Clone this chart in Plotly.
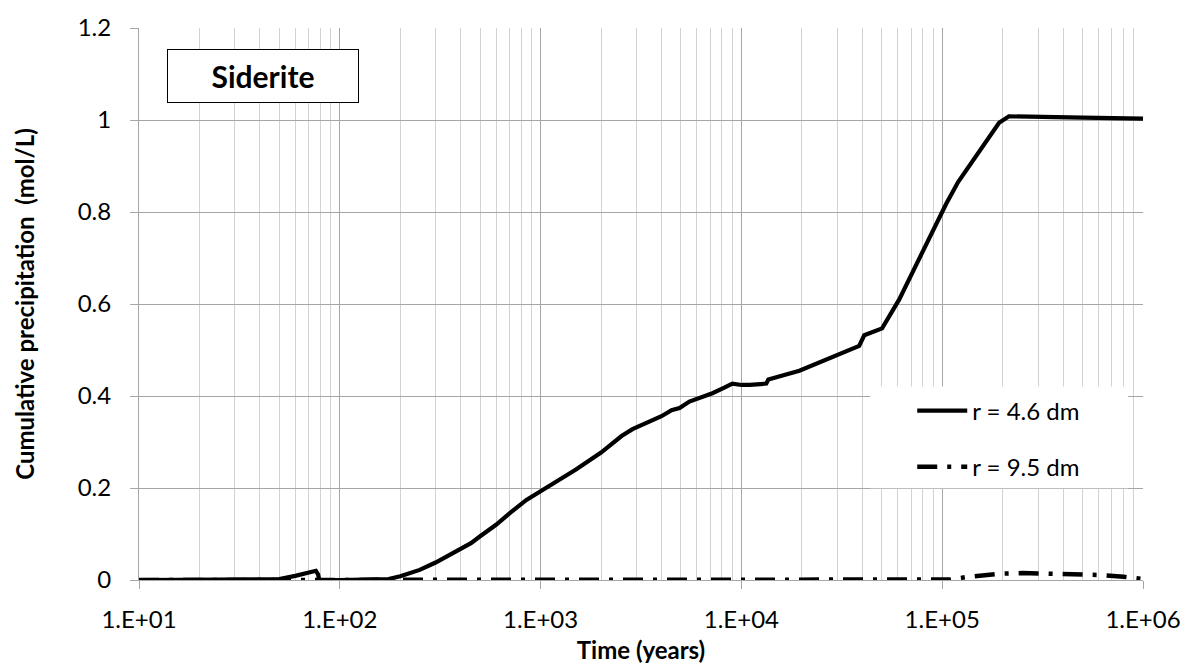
import plotly.graph_objects as go

# ---------------- data ----------------
time_solid = [10, 40, 50, 60, 73, 76, 78, 79, 100, 150, 175, 200, 250, 300, 400, 450, 500, 600,
              700, 850, 1000, 1500, 2000, 2530, 2870, 3500, 4000, 4490, 4920, 5510, 7170,
              8220, 9020, 10000, 11000, 13300, 13620, 19440, 29700, 38600, 40900, 50200,
              61100, 80000, 104700, 120000, 150000, 192000, 215000, 300000, 500000, 1000000]
r46 = [0, 0, 0.002, 0.009, 0.019, 0.02, 0.012, 0, 0, 0, 0.002, 0.008, 0.022, 0.038, 0.068,
       0.08, 0.095, 0.12, 0.145, 0.174, 0.193, 0.24, 0.277, 0.313, 0.328, 0.345, 0.356,
       0.369, 0.374, 0.388, 0.406, 0.418, 0.427, 0.424, 0.424, 0.427, 0.436, 0.455, 0.489,
       0.509, 0.532, 0.547, 0.61, 0.715, 0.818, 0.865, 0.927, 0.994, 1.008, 1.006, 1.005, 1.003]

time_dash = [10, 100, 1000, 10000, 100000, 110000, 130000, 160000, 200000, 250000,
             400000, 600000, 800000, 1000000]
r95 = [0, 0, 0, 0, 0, 0.001, 0.006, 0.011, 0.014, 0.015, 0.013, 0.011, 0.007, 0.002]

x_tickvals = [10, 100, 1000, 10000, 100000, 1000000]
x_ticktext = ["1.E+01", "1.E+02", "1.E+03", "1.E+04", "1.E+05", "1.E+06"]
y_tickvals = [0, 0.2, 0.4, 0.6, 0.8, 1.0, 1.2]
y_ticktext = ["0", "0.2", "0.4", "0.6", "0.8", "1", "1.2"]

FONT = "Lato"
minor_vals = [m * 10 ** d for d in range(1, 6) for m in range(2, 10)]

fig = go.Figure()
fig.add_trace(go.Scatter(x=time_dash, y=r95, mode="lines", name="r = 9.5 dm",
                         line=dict(color="black", width=4.5, dash="20px,10px,4px,10px"),
                         legendgroup="b", legendrank=2))
fig.add_trace(go.Scatter(x=time_solid, y=r46, mode="lines", name="r = 4.6 dm",
                         line=dict(color="black", width=4.2),
                         legendgroup="a", legendrank=1))

fig.update_layout(
    width=1193, height=672,
    margin=dict(l=139, r=49, t=22, b=91),
    paper_bgcolor="white", plot_bgcolor="white",
    font=dict(family=FONT, color="black", size=24),
    showlegend=True,
    legend=dict(x=(913 - 139) / 1005, y=(581 - 387) / 559, xanchor="left", yanchor="top",
                bgcolor="rgba(0,0,0,0)", borderwidth=0, font=dict(size=24, family=FONT),
                tracegroupgap=22, itemwidth=50),
    xaxis=dict(type="log", range=[1, 6], tickmode="array", tickvals=x_tickvals,
               ticktext=x_ticktext, showgrid=True, gridcolor="#a6a6a6", gridwidth=1,
               ticks="outside", ticklen=8, tickcolor="#a6a6a6", ticklabelstandoff=10,
               showline=True, linecolor="#a6a6a6", linewidth=1, zeroline=False,
               minor=dict(tickmode="array", tickvals=minor_vals, showgrid=True,
                          gridcolor="#d2d2d2", gridwidth=1, ticks=""),
               tickfont=dict(size=24),
               title=dict(text="<b>Time (years)</b>", font=dict(size=24), standoff=10)),
    yaxis=dict(range=[0, 1.2], tickmode="array", tickvals=y_tickvals, ticktext=y_ticktext,
               showgrid=True, gridcolor="#a6a6a6", gridwidth=1, zeroline=False,
               ticks="outside", ticklen=8, tickcolor="#a6a6a6", ticklabelstandoff=14,
               showline=True, linecolor="#a6a6a6", linewidth=1,
               tickfont=dict(size=24),
               title=dict(text="<b>Cumulative precipitation  (mol/L)</b>",
                          font=dict(size=24), standoff=36)),
    shapes=[dict(type="rect", xref="paper", yref="paper",
                 x0=(871 - 139) / 1005, x1=(1129 - 139) / 1005,
                 y0=(581 - 488) / 559, y1=(581 - 385) / 559,
                 fillcolor="white", line=dict(width=0), layer="above")],
    annotations=[dict(text="<b>Siderite</b>", xref="paper", yref="paper",
                      x=(263.5 - 139) / 1005, y=(581 - 71) / 559,
                      xanchor="center", yanchor="middle", showarrow=False,
                      font=dict(size=30, family=FONT), bgcolor="white",
                      bordercolor="black", borderwidth=1, borderpad=2,
                      width=186, height=48)],
)

fig.write_html("out.html")
